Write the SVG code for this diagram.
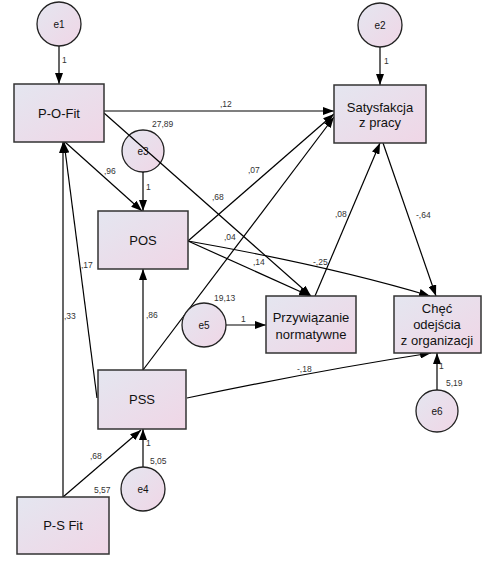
<svg xmlns="http://www.w3.org/2000/svg" width="486" height="575" viewBox="0 0 486 575">
<defs>
<linearGradient id="g" x1="0" y1="0" x2="1" y2="1">
<stop offset="0" stop-color="#e4e6f0"/>
<stop offset="1" stop-color="#f0d6e6"/>
</linearGradient>
<marker id="a" markerWidth="11" markerHeight="8" refX="11" refY="4" orient="auto" markerUnits="userSpaceOnUse">
<path d="M0,0 L11,4 L0,8 z" fill="#000"/>
</marker>
</defs>
<style>
.box{fill:url(#g);stroke:#333;stroke-width:1.5}
.err{fill:url(#g);stroke:#222;stroke-width:1.3}
.lbl{font-family:"Liberation Sans",Arial,sans-serif;font-size:13px;fill:#111;text-anchor:middle}
.el{font-family:"Liberation Sans",Arial,sans-serif;font-size:10px;fill:#111;text-anchor:middle}
.c{font-family:"Liberation Sans",Arial,sans-serif;font-size:8.5px;fill:#333}
.ln{fill:none;stroke:#000;stroke-width:1.2;marker-end:url(#a)}
</style>
<rect width="486" height="575" fill="#fff"/>
<g id="e3"><circle class="err" cx="143" cy="151" r="21"/><text class="el" x="143" y="155">e3</text></g>
<g id="connectors">
<line class="ln" x1="59" y1="46" x2="59" y2="84"/>
<line class="ln" x1="380" y1="47" x2="380" y2="85"/>
<line class="ln" x1="143" y1="172" x2="143" y2="211"/>
<line class="ln" x1="143" y1="467" x2="143" y2="429"/>
<line class="ln" x1="226" y1="325" x2="266" y2="325"/>
<line class="ln" x1="437" y1="390" x2="437" y2="353"/>
<line class="ln" x1="104" y1="111" x2="334" y2="111"/>
<line class="ln" x1="104" y1="113" x2="311" y2="296"/>
<line class="ln" x1="65" y1="142" x2="142" y2="211"/>
<line class="ln" x1="63" y1="497" x2="63" y2="142"/>
<line class="ln" x1="97" y1="398" x2="64" y2="142"/>
<line class="ln" x1="63" y1="497" x2="141" y2="430"/>
<line class="ln" x1="143" y1="370" x2="143" y2="269"/>
<line class="ln" x1="143" y1="370" x2="334" y2="117"/>
<line class="ln" x1="188" y1="241" x2="334" y2="114"/>
<line class="ln" x1="188" y1="241" x2="310" y2="296"/>
<path class="ln" d="M188,241 Q330,266 430,296"/>
<line class="ln" x1="315" y1="296" x2="380" y2="143"/>
<line class="ln" x1="383" y1="143" x2="436" y2="296"/>
<path class="ln" d="M187,398 Q320,370 431,353"/>
</g>
<g id="labels">
<text class="c" x="62" y="63">1</text>
<text class="c" x="384" y="64">1</text>
<text class="c" x="146" y="190">1</text>
<text class="c" x="146" y="446">1</text>
<text class="c" x="241" y="322">1</text>
<text class="c" x="439" y="369">1</text>
<text class="c" x="220" y="107">,12</text>
<text class="c" x="152" y="127">27,89</text>
<text class="c" x="104" y="174">,96</text>
<text class="c" x="212" y="200">,68</text>
<text class="c" x="248" y="173">,07</text>
<text class="c" x="224" y="240">,04</text>
<text class="c" x="253" y="265">,14</text>
<text class="c" x="313" y="265">-,25</text>
<text class="c" x="335" y="217">,08</text>
<text class="c" x="416" y="218">-,64</text>
<text class="c" x="81" y="268">,17</text>
<text class="c" x="64" y="319">,33</text>
<text class="c" x="146" y="318">,86</text>
<text class="c" x="214" y="301">19,13</text>
<text class="c" x="297" y="372">-,18</text>
<text class="c" x="446" y="386">5,19</text>
<text class="c" x="90" y="459">,68</text>
<text class="c" x="150" y="464">5,05</text>
<text class="c" x="94" y="493">5,57</text>
</g>
<g id="e1"><circle class="err" cx="59" cy="24" r="22"/><text class="el" x="59" y="28">e1</text></g>
<g id="e2"><circle class="err" cx="380" cy="25" r="22"/><text class="el" x="380" y="29">e2</text></g>
<g id="e4"><circle class="err" cx="143" cy="489" r="22"/><text class="el" x="143" y="493">e4</text></g>
<g id="e5"><circle class="err" cx="204" cy="325" r="22"/><text class="el" x="204" y="329">e5</text></g>
<g id="e6"><circle class="err" cx="437" cy="411" r="21"/><text class="el" x="437" y="415">e6</text></g>
<g id="pofit"><rect class="box" x="14" y="84" width="90" height="58"/><text class="lbl" x="59" y="118">P-O-Fit</text></g>
<g id="satysfakcja"><rect class="box" x="334" y="85" width="92" height="58"/><text class="lbl" x="380" y="112">Satysfakcja</text><text class="lbl" x="380" y="127">z pracy</text></g>
<g id="pos"><rect class="box" x="98" y="211" width="90" height="58"/><text class="lbl" x="143" y="245">POS</text></g>
<g id="przywiazanie"><rect class="box" x="266" y="296" width="90" height="57"/><text class="lbl" x="311" y="322">Przywiązanie</text><text class="lbl" x="311" y="339">normatywne</text></g>
<g id="chec"><rect class="box" x="394" y="296" width="87" height="57"/><text class="lbl" x="437" y="313">Chęć</text><text class="lbl" x="437" y="329">odejścia</text><text class="lbl" x="437" y="345">z organizacji</text></g>
<g id="pss"><rect class="box" x="98" y="370" width="88" height="59"/><text class="lbl" x="142" y="404">PSS</text></g>
<g id="psfit"><rect class="box" x="17" y="497" width="92" height="57"/><text class="lbl" x="63" y="530">P-S Fit</text></g>
</svg>
